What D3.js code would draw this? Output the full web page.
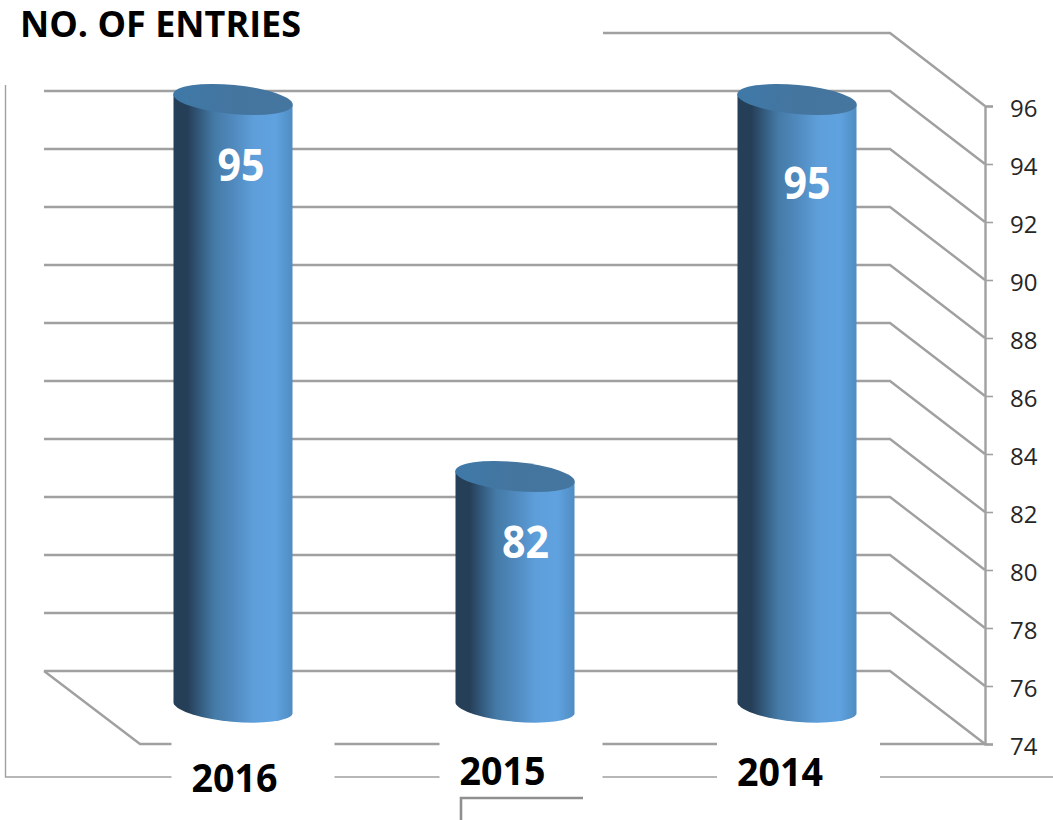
<!DOCTYPE html>
<html><head><meta charset="utf-8">
<script src="https://cdn.jsdelivr.net/npm/d3@7"></script>
<style>html,body{margin:0;padding:0;background:#fff}svg{display:block}</style>
</head><body><svg id="c" width="1053" height="820"></svg>
<script>
const chartTitle = "NO. OF ENTRIES";
const categories = ["2016", "2015", "2014"];
const values = [95, 82, 95];
const tickValues = [74, 76, 78, 80, 82, 84, 86, 88, 90, 92, 94, 96];

const W = 1053, H = 820;
const svg = d3.select("#c");
const FONT = "'Open Sans', sans-serif";
const gridColor = "#a0a0a0";

// Three planes of the 3-D box: back wall, bar plane, front edge
const yBack  = d3.scaleLinear().domain([74, 96]).range([671, 33]);
const yMid   = d3.scaleLinear().domain([74, 96]).range([708.5, 70.5]);
const yFront = d3.scaleLinear().domain([74, 96]).range([744, 106]);
const x = d3.scaleBand().domain(categories).range([92, 938]).paddingInner(0.578).paddingOuter(0.289);

const defs = svg.append("defs");
const side = defs.append("linearGradient").attr("id", "side");
[[0,"#243f57"],[0.12,"#263f58"],[0.22,"#335a7d"],[0.34,"#447aa6"],[0.5,"#5089bd"],[0.68,"#5e9fdb"],[0.86,"#5fa2df"],[1,"#4f8cc2"]]
  .forEach(([o,c]) => side.append("stop").attr("offset", o).attr("stop-color", c));
const cap = defs.append("linearGradient").attr("id", "cap");
[[0,"#3f79a8"],[0.5,"#44759f"],[1,"#45769f"]]
  .forEach(([o,c]) => cap.append("stop").attr("offset", o).attr("stop-color", c));

// Outer frame
const frame = svg.append("g").attr("fill", "none");
frame.append("path").attr("d", `M5.5 85V777H${W}`).attr("stroke", "#a0a0a0").attr("stroke-width", 1.4);
frame.append("path").attr("d", "M461 820V798H583").attr("stroke", "#8f8f8f").attr("stroke-width", 2.6);

// Gridlines on back wall, side wall and floor
const grid = svg.append("g").attr("fill", "none").attr("stroke", gridColor).attr("stroke-width", 2.4);
grid.selectAll("path.g").data(tickValues).join("path").attr("class", "g")
  .attr("d", v => v === 96
    ? `M603 ${yBack(v)}H890L985 ${yFront(v)}`
    : `M44 ${yBack(v)}H890L985 ${yFront(v)}`);
grid.append("path").attr("d", `M44 ${yBack(74)}L140 ${yFront(74)}H985`);

// Right axis
const axis = svg.append("g").attr("transform", "translate(985,0)")
  .call(d3.axisRight(yFront).tickValues(tickValues).tickSize(8).tickPadding(17).tickFormat(d3.format("d")));
axis.select(".domain").attr("stroke", gridColor).attr("stroke-width", 2.4);
axis.selectAll(".tick line").attr("stroke", gridColor).attr("stroke-width", 1.6);
axis.selectAll(".tick text").attr("font-family", FONT).attr("font-size", 24).attr("fill", "#262626")
  .attr("dy", "0.44em");

// White label plates masking the lines below the box
const plateW = 163;
const labelStart = [-41.5, -55.5, -60], labelY = [792, 785, 786];
svg.append("g").selectAll("rect").data(categories).join("rect")
  .attr("x", (d, i) => x(d) + x.bandwidth() / 2 - [61.5, 75.5, 80][i])
  .attr("y", 732).attr("width", plateW).attr("height", 56).attr("fill", "#fff");

// Cylinders
const rx = 60, ry = 14.5, tilt = 5.3;
const bars = svg.append("g").selectAll("g").data(values).join("g");
const dy = 5.5; // half the vertical fall of the tilted ellipse rim
bars.append("path").attr("fill", "url(#side)")
  .attr("d", (v, i) => {
    const l = x(categories[i]), r = l + x.bandwidth();
    const t = yMid(v), b = yMid(74);
    return `M${l} ${t - dy}L${l} ${b - dy}A${rx} ${ry} ${tilt} 0 0 ${r} ${b + dy}L${r} ${t + dy}Z`;
  });
bars.append("ellipse").attr("fill", "url(#cap)")
  .attr("rx", rx).attr("ry", ry)
  .attr("transform", (v, i) => `translate(${x(categories[i]) + x.bandwidth() / 2},${yMid(v)}) rotate(${tilt})`);

// Data labels
const valueDx = [-15.5, -13, -13.5], valueDy = [81.5, 81.5, 99.5];
svg.append("g").selectAll("text").data(values).join("text")
  .attr("x", (v, i) => x(categories[i]) + x.bandwidth() / 2 + valueDx[i])
  .attr("y", (v, i) => yMid(v) + valueDy[i])
  .attr("textLength", 47).attr("lengthAdjust", "spacingAndGlyphs")
  .attr("font-family", FONT).attr("font-weight", 700)
  .attr("font-size", 45).attr("fill", "#fff").text(v => v);

// Category labels
svg.append("g").selectAll("text").data(categories).join("text")
  .attr("x", (d, i) => x(d) + x.bandwidth() / 2 + labelStart[i])
  .attr("y", (d, i) => labelY[i])
  .attr("textLength", 86).attr("lengthAdjust", "spacingAndGlyphs")
  .attr("font-family", FONT).attr("font-weight", 700).attr("font-size", 40).attr("fill", "#000")
  .text(d => d);

// Title
svg.append("text").attr("x", 20).attr("y", 36.5)
  .attr("textLength", 281).attr("lengthAdjust", "spacingAndGlyphs")
  .attr("font-family", FONT).attr("font-weight", 700).attr("font-size", 35.5).attr("fill", "#000")
  .text(chartTitle);
</script></body></html>
